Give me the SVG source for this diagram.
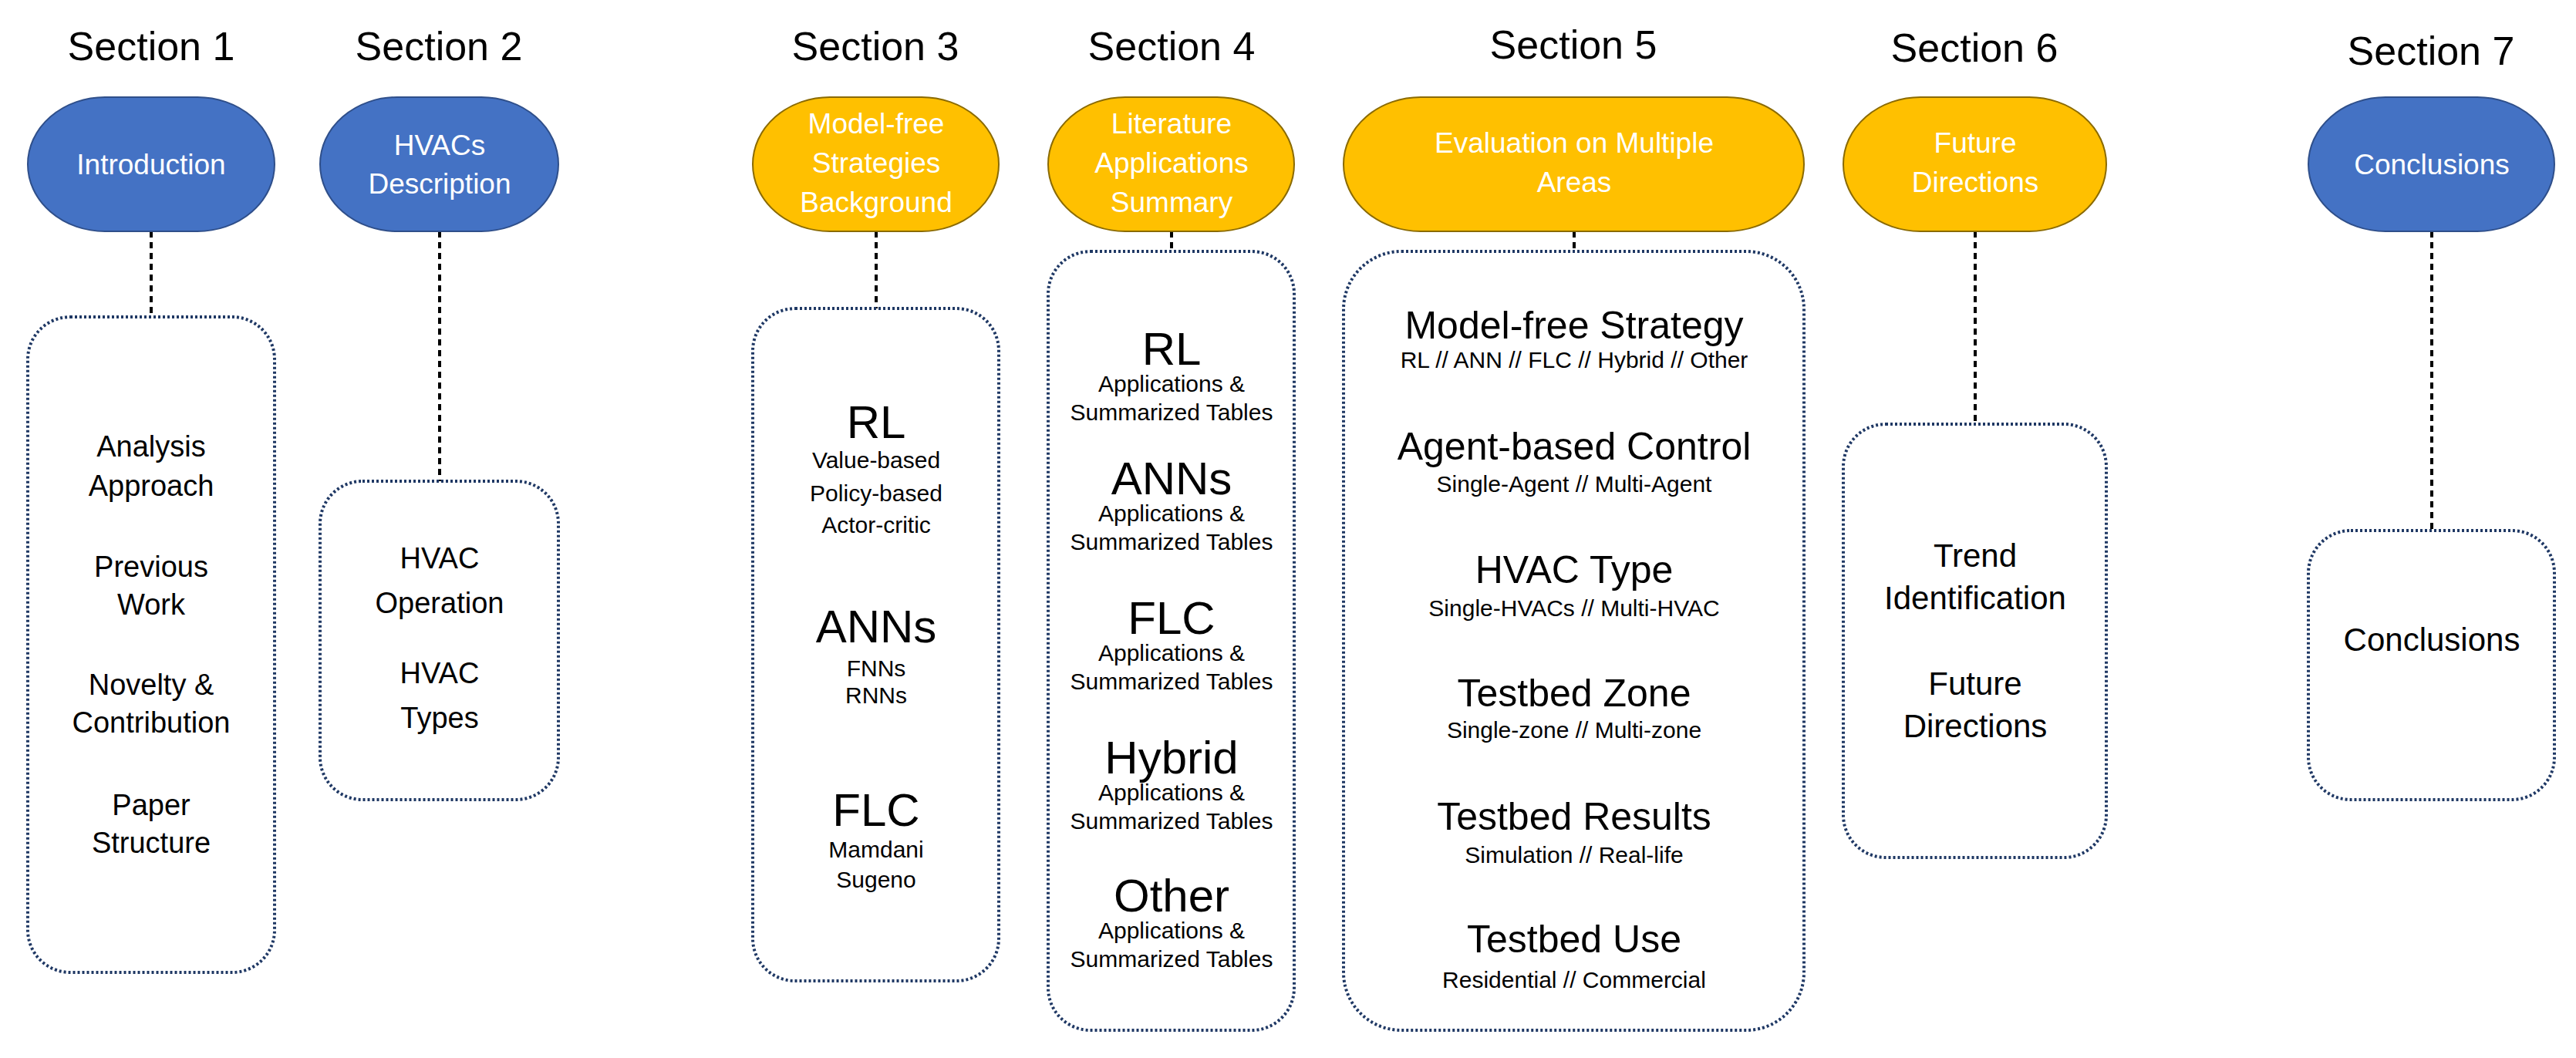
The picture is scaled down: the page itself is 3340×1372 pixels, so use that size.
<svg xmlns="http://www.w3.org/2000/svg" width="3340" height="1372" viewBox="0 0 3340 1372">
<style>
text{font-family:"Liberation Sans",Arial,sans-serif;text-anchor:middle;dominant-baseline:central;fill:#000}
.sec{font-size:52px}
.pb{fill:#4472C4;stroke:#2F4F8A;stroke-width:2}
.py{fill:#FFC000;stroke:#8A6A00;stroke-width:2}
.pt{fill:#fff;font-size:37px}
.box{fill:none;stroke:#1F3864;stroke-width:4;stroke-dasharray:3 3}
.con{stroke:#000;stroke-width:4;stroke-dasharray:8 6;fill:none}
.m{font-size:38px}
.big{font-size:60px}
.h{font-size:50px}
.s{font-size:30px}
.b6{font-size:42px}
</style>
<rect width="3340" height="1372" fill="#fff"/>
<g id="titles">
<text class="sec" x="196" y="60">Section 1</text>
<text class="sec" x="569" y="60">Section 2</text>
<text class="sec" x="1135" y="60">Section 3</text>
<text class="sec" x="1519" y="60">Section 4</text>
<text class="sec" x="2040" y="58">Section 5</text>
<text class="sec" x="2560" y="62">Section 6</text>
<text class="sec" x="3152" y="66">Section 7</text>
</g>
<g id="connectors">
<line class="con" x1="196" y1="300" x2="196" y2="411"/>
<line class="con" x1="570" y1="300" x2="570" y2="624"/>
<line class="con" x1="1136" y1="300" x2="1136" y2="400"/>
<line class="con" x1="1519" y1="300" x2="1519" y2="326"/>
<line class="con" x1="2041" y1="300" x2="2041" y2="326"/>
<line class="con" x1="2561" y1="300" x2="2561" y2="550"/>
<line class="con" x1="3153" y1="300" x2="3153" y2="688"/>
</g>
<g id="n1">
<rect class="pb" x="36" y="126" width="320" height="174" rx="100" ry="87"/>
<text class="pt" x="196" y="213">Introduction</text>
<rect class="box" x="36" y="411" width="320" height="850" rx="55"/>
<text class="m" x="196" y="579">Analysis</text><text class="m" x="196" y="630">Approach</text>
<text class="m" x="196" y="735">Previous</text><text class="m" x="196" y="784">Work</text>
<text class="m" x="196" y="888">Novelty &amp;</text><text class="m" x="196" y="937">Contribution</text>
<text class="m" x="196" y="1044">Paper</text><text class="m" x="196" y="1093">Structure</text>
</g>
<g id="n2">
<rect class="pb" x="415" y="126" width="309" height="174" rx="100" ry="87"/>
<text class="pt" x="570" y="188">HVACs</text><text class="pt" x="570" y="238">Description</text>
<rect class="box" x="415" y="624" width="309" height="413" rx="55"/>
<text class="m" x="570" y="724">HVAC</text><text class="m" x="570" y="782">Operation</text>
<text class="m" x="570" y="873">HVAC</text><text class="m" x="570" y="931">Types</text>
</g>
<g id="n3">
<rect class="py" x="976" y="126" width="319" height="174" rx="100" ry="87"/>
<text class="pt" x="1136" y="160">Model-free</text><text class="pt" x="1136" y="211">Strategies</text><text class="pt" x="1136" y="262">Background</text>
<rect class="box" x="976" y="400" width="319" height="872" rx="55"/>
<text class="big" x="1136" y="547">RL</text>
<text class="s" x="1136" y="596">Value-based</text><text class="s" x="1136" y="639">Policy-based</text><text class="s" x="1136" y="680">Actor-critic</text>
<text class="big" x="1136" y="812">ANNs</text>
<text class="s" x="1136" y="866">FNNs</text><text class="s" x="1136" y="901">RNNs</text>
<text class="big" x="1136" y="1050">FLC</text>
<text class="s" x="1136" y="1101">Mamdani</text><text class="s" x="1136" y="1140">Sugeno</text>
</g>
<g id="n4">
<rect class="py" x="1359" y="126" width="319" height="174" rx="100" ry="87"/>
<text class="pt" x="1519" y="160">Literature</text><text class="pt" x="1519" y="211">Applications</text><text class="pt" x="1519" y="262">Summary</text>
<rect class="box" x="1359" y="326" width="319" height="1010" rx="55"/>
<text class="big" x="1519" y="452">RL</text><text class="s" x="1519" y="497">Applications &amp;</text><text class="s" x="1519" y="534">Summarized Tables</text>
<text class="big" x="1519" y="620">ANNs</text><text class="s" x="1519" y="665">Applications &amp;</text><text class="s" x="1519" y="702">Summarized Tables</text>
<text class="big" x="1519" y="801">FLC</text><text class="s" x="1519" y="846">Applications &amp;</text><text class="s" x="1519" y="883">Summarized Tables</text>
<text class="big" x="1519" y="982">Hybrid</text><text class="s" x="1519" y="1027">Applications &amp;</text><text class="s" x="1519" y="1064">Summarized Tables</text>
<text class="big" x="1519" y="1161">Other</text><text class="s" x="1519" y="1206">Applications &amp;</text><text class="s" x="1519" y="1243">Summarized Tables</text>
</g>
<g id="n5">
<rect class="py" x="1742" y="126" width="597" height="174" rx="100" ry="87"/>
<text class="pt" x="2041" y="185">Evaluation on Multiple</text><text class="pt" x="2041" y="236">Areas</text>
<rect class="box" x="1742" y="326" width="597" height="1010" rx="75"/>
<text class="h" x="2041" y="422">Model-free Strategy</text><text class="s" x="2041" y="466">RL // ANN // FLC // Hybrid // Other</text>
<text class="h" x="2041" y="579">Agent-based Control</text><text class="s" x="2041" y="627">Single-Agent // Multi-Agent</text>
<text class="h" x="2041" y="739">HVAC Type</text><text class="s" x="2041" y="788">Single-HVACs // Multi-HVAC</text>
<text class="h" x="2041" y="899">Testbed Zone</text><text class="s" x="2041" y="946">Single-zone // Multi-zone</text>
<text class="h" x="2041" y="1059">Testbed Results</text><text class="s" x="2041" y="1108">Simulation // Real-life</text>
<text class="h" x="2041" y="1218">Testbed Use</text><text class="s" x="2041" y="1270">Residential // Commercial</text>
</g>
<g id="n6">
<rect class="py" x="2390" y="126" width="341" height="174" rx="100" ry="87"/>
<text class="pt" x="2561" y="185">Future</text><text class="pt" x="2561" y="236">Directions</text>
<rect class="box" x="2390" y="550" width="341" height="562" rx="55"/>
<text class="b6" x="2561" y="720">Trend</text><text class="b6" x="2561" y="775">Identification</text>
<text class="b6" x="2561" y="886">Future</text><text class="b6" x="2561" y="941">Directions</text>
</g>
<g id="n7">
<rect class="pb" x="2993" y="126" width="319" height="174" rx="100" ry="87"/>
<text class="pt" x="3153" y="213">Conclusions</text>
<rect class="box" x="2993" y="688" width="319" height="349" rx="55"/>
<text class="b6" x="3153" y="829">Conclusions</text>
</g>
</svg>
